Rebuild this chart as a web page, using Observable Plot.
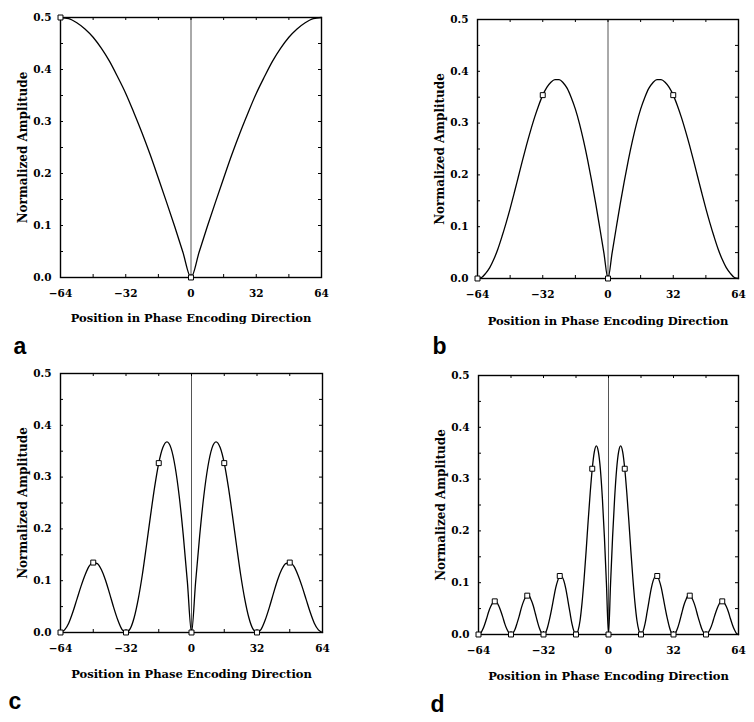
<!DOCTYPE html>
<html><head><meta charset="utf-8">
<script src="https://cdn.jsdelivr.net/npm/d3@7"></script>
<script src="https://cdn.jsdelivr.net/npm/@observablehq/plot@0.6"></script>
<style>
body{margin:0;background:#fff;}
#fig{position:relative;width:754px;height:722px;background:#fff;overflow:hidden;}
.panel{position:absolute;}
</style></head><body><div id="fig"></div>
<script>
// ---- data (amplitude read at |x| = 0, step, 2*step, ... 64; curves are symmetric) ----
const xTickLabels = [-64, -32, 0, 32, 64];
const yTickLabels = [0, 0.1, 0.2, 0.3, 0.4, 0.5];
const xMinorTicks = [-48, -32, -16, 0, 16, 32, 48];
const yMinorTicks = [0.05, 0.1, 0.15, 0.2, 0.25, 0.3, 0.35, 0.4, 0.45];
const xTitle = "Position in Phase Encoding Direction";
const yTitle = "Normalized Amplitude";
const panelLetters = ["a", "b", "c", "d"];

const stepA = 4;
const ampA = [0, 0.049, 0.098, 0.145, 0.191, 0.236, 0.278, 0.317, 0.354, 0.386, 0.416, 0.441, 0.462, 0.478, 0.490, 0.498, 0.500];
const markA = [-64, 0];

const stepB = 2;
const ampB = [0, 0.049, 0.097, 0.144, 0.188, 0.229, 0.266, 0.299, 0.327, 0.349, 0.367, 0.378, 0.384, 0.384, 0.379, 0.369,
  0.354, 0.334, 0.311, 0.285, 0.257, 0.227, 0.196, 0.165, 0.135, 0.107, 0.081, 0.057, 0.037, 0.021, 0.010, 0.002, 0];
const markB = [-64, -32, 0, 32];

const stepC = 2;
const ampC = [0, 0.097, 0.187, 0.263, 0.320, 0.356, 0.368, 0.357, 0.327, 0.281, 0.226, 0.168, 0.112, 0.065, 0.029, 0.007,
  0, 0.006, 0.024, 0.048, 0.075, 0.101, 0.121, 0.133, 0.135, 0.128, 0.111, 0.089, 0.064, 0.039, 0.018, 0.005, 0];
const markC = [-64, -48, -32, -16, 0, 16, 32, 48];

const stepD = 1;
const ampD = [0, 0.097, 0.187, 0.262, 0.319, 0.353, 0.364, 0.352, 0.320, 0.274, 0.220, 0.162, 0.108, 0.062, 0.027, 0.007,
  0, 0.006, 0.021, 0.043, 0.066, 0.088, 0.104, 0.112, 0.113, 0.104, 0.090, 0.070, 0.049, 0.030, 0.014, 0.003,
  0, 0.003, 0.012, 0.025, 0.040, 0.055, 0.066, 0.074, 0.075, 0.071, 0.062, 0.050, 0.035, 0.022, 0.010, 0.003,
  0, 0.003, 0.010, 0.020, 0.033, 0.045, 0.055, 0.062, 0.064, 0.061, 0.054, 0.044, 0.031, 0.019, 0.009, 0.002, 0];
const markD = [-64, -56, -48, -40, -32, -24, -16, -8, 0, 8, 16, 24, 32, 40, 48, 56];

// ---- layout ----
const W = 377, H = 361;
const layout = [
  {left: 0,   top: 0,   mL: 60,  mR: 56, mT: 17, mB: 84, tdy: 44, ldx: -47, ldy: 76},
  {left: 377, top: 0,   mL: 100, mR: 16, mT: 19, mB: 83, tdy: 46, ldx: -45, ldy: 75},
  {left: 0,   top: 361, mL: 60,  mR: 55, mT: 12, mB: 90, tdy: 45, ldx: -52, ldy: 76},
  {left: 377, top: 361, mL: 101, mR: 16, mT: 14, mB: 88, tdy: 45, ldx: -48, ldy: 77}
];
const series = [[ampA, stepA, markA], [ampB, stepB, markB], [ampC, stepC, markC], [ampD, stepD, markD]];

function buildRows(half, step) {
  const n = half.length - 1, rows = [];
  for (let i = -n; i <= n; i++) rows.push({x: i * step, y: half[Math.abs(i)]});
  return rows;
}

const fig = document.getElementById("fig");
series.forEach(([half, step, marks], i) => {
  const L = layout[i];
  const fw = W - L.mL - L.mR, fh = H - L.mT - L.mB;
  const rows = buildRows(half, step);
  const markerRows = marks.map(x => ({x, y: half[Math.abs(x) / step]}));
  const chart = Plot.plot({
    width: W, height: H,
    marginLeft: L.mL, marginRight: L.mR, marginTop: L.mT, marginBottom: L.mB,
    x: {domain: [-64, 64]},
    y: {domain: [0, 0.5]},
    style: {fontFamily: "'DejaVu Serif', serif", fontWeight: "bold", fontSize: "10.5px", background: "white", color: "black"},
    marks: [
      Plot.ruleX([0], {stroke: "#555", strokeWidth: 1}),
      Plot.line(rows, {x: "x", y: "y", curve: "monotone-x", stroke: "black", strokeWidth: 1.3}),
      Plot.tickY(yMinorTicks, {y: d => d, insetRight: fw - 3, stroke: "black"}),
      Plot.tickY(yMinorTicks, {y: d => d, insetLeft: fw - 3, stroke: "black"}),
      Plot.tickX(xMinorTicks, {x: d => d, insetBottom: fh - 3, stroke: "black"}),
      Plot.tickX(xMinorTicks, {x: d => d, insetTop: fh - 3, stroke: "black"}),
      Plot.frame({stroke: "black", strokeWidth: 1.4}),
      Plot.dot(markerRows, {x: "x", y: "y", symbol: "square", r: 2.8, stroke: "black", fill: "white", strokeWidth: 1}),
      Plot.axisX({ticks: xTickLabels, tickSize: 0, tickPadding: 12, tickFormat: "d", label: null}),
      Plot.axisY({ticks: yTickLabels, tickSize: 0, tickPadding: 9, tickFormat: ".1f", label: null}),
      Plot.text([xTitle], {text: d => d, frameAnchor: "bottom", dy: L.tdy, textAnchor: "middle", lineAnchor: "bottom", fontSize: 11.5}),
      Plot.text([yTitle], {text: d => d, frameAnchor: "left", dx: -37, rotate: -90, textAnchor: "middle", lineAnchor: "middle", fontSize: 12}),
      Plot.text([panelLetters[i]], {text: d => d, frameAnchor: "bottom-left", dx: L.ldx, dy: L.ldy, textAnchor: "start",
        lineAnchor: "bottom", fontFamily: "'Liberation Sans', Arial, sans-serif", fontWeight: "bold", fontSize: 23})
    ]
  });
  const div = document.createElement("div");
  div.className = "panel";
  div.style.left = L.left + "px";
  div.style.top = L.top + "px";
  div.appendChild(chart);
  fig.appendChild(div);
});
</script>
</body></html>
